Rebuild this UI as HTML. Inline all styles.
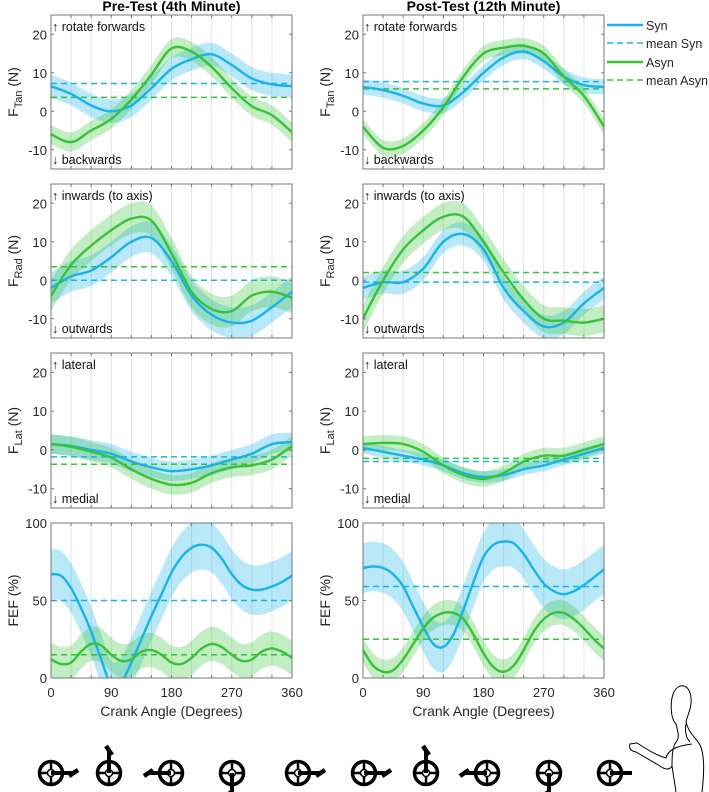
<!DOCTYPE html>
<html><head><meta charset="utf-8">
<style>
html,body{margin:0;padding:0;background:#fff;}
svg{display:block;font-family:"Liberation Sans",Arial,sans-serif;}
</style></head>
<body>
<svg id="fig" width="709" height="792" viewBox="0 0 709 792" xmlns="http://www.w3.org/2000/svg"></svg>
<script>
// ---- data ----
const angles13 = [0,30,60,90,120,150,180,210,240,270,300,330,360];
const angles25 = [0,15,30,45,60,75,90,105,120,135,150,165,180,195,210,225,240,255,270,285,300,315,330,345,360];
const xTicks = [0,90,180,270,360];
const forceTicks = [-10,0,10,20];
const fefTicks = [0,50,100];

// Pre-test
const preTanSyn  = [6.5,4.5,1.5,0,1.5,6,11,13.5,14.8,12,8.5,7,6.5];
const preTanAsyn = [-6,-8,-5,-2,3,9.5,16.3,15.5,11.5,6,1.3,-1,-5.5];
const preRadSyn  = [-2,1,2.5,6,10,11,5,-4,-9,-11,-10.5,-7,-3];
const preRadAsyn = [-4,4,9,13,16,15.5,7,-3,-7.5,-8,-4,-3,-4.5];
const preLatSyn  = [1.5,1,0,-1,-3,-4.5,-5.5,-5,-4,-2.5,-1,1.5,2];
const preLatAsyn = [1.5,0.8,-0.5,-2,-5,-7.5,-9,-8.5,-6,-4.5,-4,-2.5,1];
const preFefSyn  = [67,66,58,45,30,12,-5,-3,10,25,40,54,68,78,84,86,84,77,67,60,57,57,59,62,66];
const preFefAsyn = [12,9,10,17,22,21,15,11,12,17,18,15,10,9,13,19,22,20,15,11,12,17,19,17,13];
const preMeansSyn  = [7.2,0,-1.8,50];
const preMeansAsyn = [3.6,3.5,-3.7,15];
// Post-test
const postTanSyn  = [6.3,5.5,4,2,1.5,5,10,14,15.5,13,9,6.8,6.3];
const postTanAsyn = [-4,-9.5,-9,-5,1,9,15,16.5,17,15,9,4,-4];
const postRadSyn  = [-2,-0.5,-0.5,3,10,12,8,-2,-8,-12,-11,-6,-2];
const postRadAsyn = [-10,0,8,13,16.5,16.5,10,2,-5,-10,-10.5,-11,-10];
const postLatSyn  = [0.5,-0.5,-1.5,-2.5,-4,-6,-7,-6.5,-5,-4,-2.5,-1,0.5];
const postLatAsyn = [1.5,1.8,1.5,-0.5,-4,-6.5,-7.5,-6,-3,-1.5,-1.5,0,1.5];
const postFefSyn  = [71,72,71,67,59,46,33,22,20,28,44,62,78,86,88,87,80,70,61,56,54,56,60,65,70];
const postFefAsyn = [18,8,4,5,12,22,32,39,42,42,38,28,16,7,4,8,18,30,38,42,42,38,32,25,19];
const postMeansSyn  = [7.7,-0.5,-3,59];
const postMeansAsyn = [5.8,2,-2.2,25];
// band half-widths per row [Tan,Rad,Lat,FEF]
const preBandSyn  = [3,4,2.5,16];
const preBandAsyn = [2.5,4,2.5,11];
const postBandSyn  = [2,3,1.5,16];
const postBandAsyn = [2,3.5,2,8];

const crankAngles = [0,90,180,270,360,0,90,180,270,360];

// ---- layout ----
const NS="http://www.w3.org/2000/svg";
const svg=document.getElementById('fig');
function mk(tag,attrs,parent){const e=document.createElementNS(NS,tag);for(const k in attrs)e.setAttribute(k,attrs[k]);(parent||svg).appendChild(e);return e;}
const BLUE="#17b3ea", GREEN="#37c237";
const cols=[{x0:51,x1:292,title:"Pre-Test (4th Minute)",key:"pre"},{x0:363,x1:604,title:"Post-Test (12th Minute)",key:"post"}];
const rows=[{top:15,bot:169,min:-15,max:25,lab:["F","Tan"," (N)"],up:"rotate forwards",dn:"backwards"},
            {top:184,bot:338,min:-15,max:25,lab:["F","Rad"," (N)"],up:"inwards (to axis)",dn:"outwards"},
            {top:353,bot:508,min:-15,max:25,lab:["F","Lat"," (N)"],up:"lateral",dn:"medial"},
            {top:523,bot:678,min:0,max:100,lab:["FEF (%)","",""],up:null,dn:null}];
const D={pre:{syn:[preTanSyn,preRadSyn,preLatSyn,preFefSyn],asyn:[preTanAsyn,preRadAsyn,preLatAsyn,preFefAsyn],ms:preMeansSyn,ma:preMeansAsyn,bs:preBandSyn,ba:preBandAsyn},
         post:{syn:[postTanSyn,postRadSyn,postLatSyn,postFefSyn],asyn:[postTanAsyn,postRadAsyn,postLatAsyn,postFefAsyn],ms:postMeansSyn,ma:postMeansAsyn,bs:postBandSyn,ba:postBandAsyn}};

function cr(pts){
  let d="M"+pts[0][0].toFixed(1)+","+pts[0][1].toFixed(1);
  for(let i=0;i<pts.length-1;i++){
    const p0=pts[Math.max(0,i-1)],p1=pts[i],p2=pts[i+1],p3=pts[Math.min(pts.length-1,i+2)];
    const c1=[p1[0]+(p2[0]-p0[0])/6,p1[1]+(p2[1]-p0[1])/6];
    const c2=[p2[0]-(p3[0]-p1[0])/6,p2[1]-(p3[1]-p1[1])/6];
    d+=" C"+c1[0].toFixed(1)+","+c1[1].toFixed(1)+" "+c2[0].toFixed(1)+","+c2[1].toFixed(1)+" "+p2[0].toFixed(1)+","+p2[1].toFixed(1);
  }
  return d;
}
function crRev(pts){return cr(pts.slice().reverse()).replace(/^M/,"L");}

let clipId=0;
cols.forEach((c,ci)=>{
  const t=mk('text',{x:(c.x0+c.x1)/2,y:11,'text-anchor':'middle','font-size':14,'font-weight':'bold',fill:'#000'});
  t.textContent=c.title;
  
  
  rows.forEach((r,ri)=>{
    const X=a=>c.x0+(a/360)*(c.x1-c.x0);
    const Y=v=>r.bot-(v-r.min)/(r.max-r.min)*(r.bot-r.top);
    const g=mk('g',{});
    
    
    for(let a=30;a<360;a+=30){
      const gl=mk('line',{x1:X(a),x2:X(a),y1:r.top,y2:r.bot,stroke:'#e3e3e3','stroke-width':1},g);
      
      
    }
    const id='clip'+(clipId++);
    const cp=mk('clipPath',{id:id},g); mk('rect',{x:c.x0,y:r.top,width:c.x1-c.x0,height:r.bot-r.top},cp);
    const pg=mk('g',{'clip-path':'url(#'+id+')'},g);
    const d=D[c.key];
    const series=[{vals:d.syn[ri],band:d.bs[ri],mean:d.ms[ri],col:BLUE,n:'syn'},{vals:d.asyn[ri],band:d.ba[ri],mean:d.ma[ri],col:GREEN,n:'asyn'}];
    const ang = ri===3?angles25:angles13;
    series.forEach(s=>{
      const up=s.vals.map((v,i)=>[X(ang[i]),Y(v+s.band)]);
      const lo=s.vals.map((v,i)=>[X(ang[i]),Y(v-s.band)]);
      const b=mk('path',{d:cr(up)+" "+crRev(lo)+" Z",fill:s.col,'fill-opacity':0.3,stroke:'none'},pg);
      
      
    });
    series.forEach(s=>{
      const ml=mk('line',{x1:c.x0,x2:c.x1,y1:Y(s.mean),y2:Y(s.mean),stroke:s.col,'stroke-width':1.5,'stroke-dasharray':'6,4'},pg);
      
      
    });
    series.forEach(s=>{
      const pts=s.vals.map((v,i)=>[X(ang[i]),Y(v)]);
      const l=mk('path',{d:cr(pts),fill:'none',stroke:s.col,'stroke-width':2.4},pg);
      
      
    });
    const fr=mk('rect',{x:c.x0,y:r.top,width:c.x1-c.x0,height:r.bot-r.top,fill:'none',stroke:'#777','stroke-width':1},g);
    
    
    for(let a=30;a<360;a+=30){
      mk('line',{x1:X(a),x2:X(a),y1:r.bot,y2:r.bot-3,stroke:'#777'},g);
      mk('line',{x1:X(a),x2:X(a),y1:r.top,y2:r.top+3,stroke:'#777'},g);
    }
    const ticks = ri===3?fefTicks:forceTicks;
    ticks.forEach(v=>{
      mk('line',{x1:c.x0,x2:c.x0+3,y1:Y(v),y2:Y(v),stroke:'#777'},g);
      mk('line',{x1:c.x1,x2:c.x1-3,y1:Y(v),y2:Y(v),stroke:'#777'},g);
      const tl=mk('text',{x:c.x0-4,y:Y(v)+5,'text-anchor':'end','font-size':13,fill:'#262626'},g);
      tl.textContent=v;
      
      
    });
    const ly=(r.top+r.bot)/2, lx=c.x0-33;
    const yl=mk('text',{transform:'translate('+lx+','+ly+') rotate(-90)','text-anchor':'middle','font-size':14,fill:'#262626'},g);
    
    
    if(ri===3){yl.textContent=r.lab[0];}
    else{
      const s1=mk('tspan',{},yl);s1.textContent=r.lab[0];
      const s2=mk('tspan',{dy:4,'font-size':11},yl);s2.textContent=r.lab[1];
      const s3=mk('tspan',{dy:-4},yl);s3.textContent=r.lab[2];
    }
    if(r.up){
      const u=mk('text',{x:c.x0+1,y:r.top+16,'font-size':12.5,fill:'#111'},g);u.textContent="\u2191 "+r.up;
      
      
      const dn=mk('text',{x:c.x0+1,y:r.bot-5,'font-size':12.5,fill:'#111'},g);dn.textContent="\u2193 "+r.dn;
      
      
    }
    if(ri===3){
      xTicks.forEach(a=>{
        const xl=mk('text',{x:X(a),y:r.bot+19,'text-anchor':'middle','font-size':13,fill:'#262626'},g);
        xl.textContent=a;
        
        
      });
      const xt=mk('text',{x:(c.x0+c.x1)/2,y:r.bot+38,'text-anchor':'middle','font-size':14,fill:'#262626'},g);
      xt.textContent="Crank Angle (Degrees)";
      
      
    }
  });
});

// legend
const leg=mk('g',{});


[["Syn",BLUE,false,25],["mean Syn",BLUE,true,43],["Asyn",GREEN,false,62],["mean Asyn",GREEN,true,80]].forEach(e=>{
  const ln=mk('line',{x1:607,x2:643,y1:e[3],y2:e[3],stroke:e[1],'stroke-width':e[2]?1.5:2.4,'stroke-dasharray':e[2]?'6,4':'none'},leg);
  
  
  const tx=mk('text',{x:646,y:e[3]+5,'font-size':12.5,fill:'#262626',textLength:e[0]==="mean Asyn"?62:null});
  if(e[0]!=="mean Asyn") tx.removeAttribute('textLength');
  leg.appendChild(tx);
  tx.textContent=e[0];
  
  
});

// crank icons
const crankX=[51,109,171,232,298,364,426,487,549,610];
crankAngles.forEach((a,i)=>{
  const cx=crankX[i], cy=773, rad=a*Math.PI/180;
  const g=mk('g',{});
  
  
  mk('circle',{cx:cx,cy:cy,r:11.5,fill:'none',stroke:'#000','stroke-width':3.5},g);
  mk('line',{x1:cx-11,x2:cx+11,y1:cy,y2:cy,stroke:'#000','stroke-width':2.5},g);
  mk('line',{x1:cx,x2:cx,y1:cy-11,y2:cy+11,stroke:'#000','stroke-width':2.5},g);
  mk('circle',{cx:cx,cy:cy,r:3.5,fill:'#fff',stroke:'#000','stroke-width':1.5},g);
  const ex=cx+Math.cos(rad)*22, ey=cy-Math.sin(rad)*22;
  mk('line',{x1:cx,y1:cy,x2:ex,y2:ey,stroke:'#000','stroke-width':4},g);
  if(i<9){
    const dx=Math.cos(rad), dy=-Math.sin(rad);
    const ox=-dy*3, oy=dx*3;
    mk('line',{x1:ex-dx*4+ox,y1:ey-dy*4+oy,x2:ex+dx*5-ox,y2:ey+dy*5-oy,stroke:'#000','stroke-width':4.5},g);
  }
});
// person outline
const p=mk('path',{d:"M676,724 C670,718 670,700 674,692 C679,682 690,684 691,698 C692,708 687,716 686,722 C688,732 696,738 700,745 C705,755 704,775 702,792 M686,724 C684,734 688,740 690,742 M676,724 C678,732 680,738 676,742 C672,748 672,758 672,766 C670,770 665,770 660,766 L636,752 C631,751 628,748 630,744 L637,743 C645,748 655,755 666,758 C668,750 676,746 692,744 M672,766 L676,792",fill:'none',stroke:'#000','stroke-width':1},svg);


</script>
</body></html>
